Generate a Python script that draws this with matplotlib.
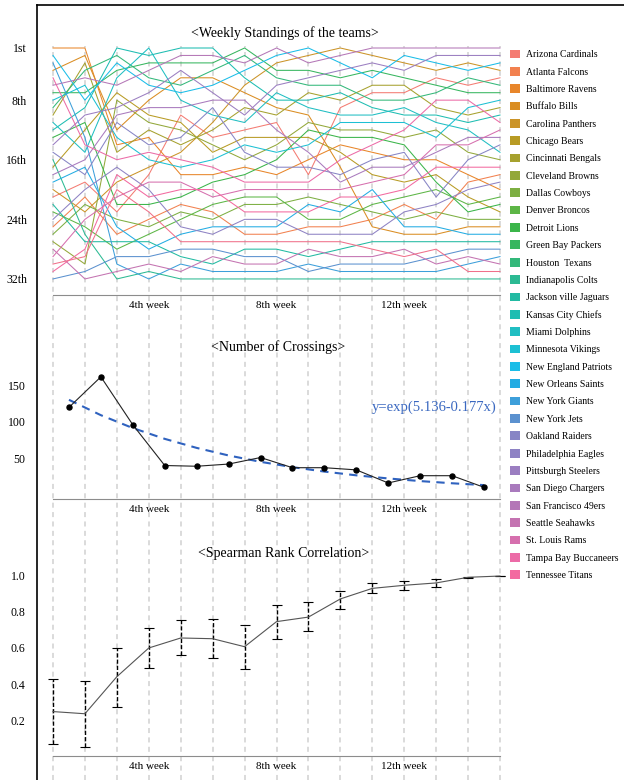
import numpy as np
import matplotlib.pyplot as plt
from matplotlib.lines import Line2D
from matplotlib.patches import Patch

W, H = 624, 780

weeks = np.arange(1, 16)
week_ticks = [4, 8, 12]
week_labels = ['4th week', '8th week', '12th week']

teams = ['Arizona Cardinals', 'Atlanta Falcons', 'Baltimore Ravens', 'Buffalo Bills',
         'Carolina Panthers', 'Chicago Bears', 'Cincinnati Bengals', 'Cleveland Browns',
         'Dallas Cowboys', 'Denver Broncos', 'Detroit Lions', 'Green Bay Packers',
         'Houston  Texans', 'Indianapolis Colts', 'Jackson ville Jaguars', 'Kansas City Chiefs',
         'Miami Dolphins', 'Minnesota Vikings', 'New England Patriots', 'New Orleans Saints',
         'New York Giants', 'New York Jets', 'Oakland Raiders', 'Philadelphia Eagles',
         'Pittsburgh Steelers', 'San Diego Chargers', 'San Francisco 49ers', 'Seattle Seahawks',
         'St. Louis Rams', 'Tampa Bay Buccaneers', 'Tennessee Titans', 'Washington Redskins']

team_colors = ['#F47B72', '#F2814F', '#E8862A', '#DA8D22', '#CB9428', '#B89B24', '#A6A12E',
               '#93A83A', '#7DAF42', '#5DB646', '#3BB54A', '#37B65F', '#33B87A', '#2CBA93',
               '#22BAA2', '#1EBDB2', '#20BEC2', '#1DC0D3', '#1ABDE8', '#23ACE3', '#3D9FDA',
               '#5B91CF', '#8785C5', '#8E82C4', '#9B7EC1', '#A97ABD', '#B477B7', '#C473B1',
               '#D66FAE', '#EC6BA7', '#F36AA0', '#F0708A']

# weekly standing (1 = best), one row per team, weeks 1..15
standings = [
    [21, 18, 22, 18, 9, 12, 11, 9, 16, 9, 7, 7, 5, 6, 5],
    [25, 21, 27, 24, 22, 23, 25, 24, 22, 24, 23, 22, 24, 19, 18],
    [1, 1, 13, 11, 16, 17, 15, 16, 14, 14, 15, 16, 16, 18, 20],
    [4, 2, 12, 6, 5, 5, 7, 8, 10, 16, 23, 26, 27, 25, 25],
    [20, 24, 19, 16, 13, 10, 6, 3, 2, 1, 2, 3, 4, 3, 4],
    [17, 11, 7, 8, 9, 14, 12, 11, 12, 14, 17, 18, 18, 21, 23],
    [10, 3, 14, 10, 12, 11, 8, 8, 7, 8, 6, 6, 10, 10, 9],
    [27, 30, 7, 9, 10, 13, 14, 11, 10, 12, 12, 12, 12, 15, 16],
    [26, 22, 25, 25, 23, 24, 21, 20, 19, 20, 22, 23, 22, 23, 24],
    [23, 26, 28, 26, 24, 22, 20, 19, 21, 21, 21, 21, 19, 21, 21],
    [13, 10, 21, 22, 21, 18, 16, 13, 11, 13, 13, 13, 18, 22, 22],
    [7, 7, 4, 3, 3, 3, 1, 3, 4, 5, 4, 5, 6, 7, 7],
    [9, 4, 2, 4, 5, 4, 2, 4, 6, 6, 8, 8, 7, 5, 6],
    [16, 26, 32, 31, 31, 32, 32, 32, 32, 32, 32, 32, 32, 32, 32],
    [22, 27, 27, 27, 29, 30, 27, 29, 29, 28, 27, 27, 27, 27, 27],
    [12, 9, 1, 2, 1, 1, 5, 7, 8, 7, 9, 10, 11, 11, 10],
    [11, 13, 5, 1, 7, 9, 10, 6, 9, 10, 10, 9, 11, 12, 15],
    [8, 6, 12, 14, 15, 14, 12, 12, 12, 11, 11, 11, 13, 9, 8],
    [2, 7, 3, 4, 6, 5, 4, 2, 1, 3, 5, 2, 3, 4, 3],
    [19, 16, 26, 27, 26, 25, 24, 23, 19, 20, 20, 24, 26, 26, 26],
    [3, 12, 30, 31, 29, 31, 31, 31, 30, 31, 31, 31, 31, 30, 29],
    [32, 31, 29, 28, 28, 28, 28, 29, 31, 30, 30, 30, 29, 28, 28],
    [15, 17, 10, 12, 11, 8, 13, 14, 15, 16, 16, 14, 20, 16, 14],
    [24, 19, 17, 20, 25, 26, 23, 22, 23, 24, 24, 22, 21, 20, 19],
    [14, 9, 8, 5, 4, 6, 9, 5, 4, 4, 3, 4, 2, 2, 2],
    [18, 14, 9, 7, 8, 7, 7, 10, 13, 17, 16, 16, 15, 13, 13],
    [6, 5, 6, 3, 2, 2, 3, 1, 2, 2, 1, 1, 1, 1, 1],
    [28, 32, 31, 30, 30, 29, 30, 30, 28, 29, 29, 28, 30, 29, 30],
    [29, 25, 20, 19, 17, 21, 19, 18, 17, 18, 18, 17, 14, 14, 12],
    [5, 12, 15, 13, 14, 16, 18, 17, 16, 15, 14, 11, 9, 8, 11],
    [31, 28, 18, 21, 20, 20, 22, 21, 20, 19, 20, 19, 17, 17, 17],
    [30, 29, 19, 23, 27, 27, 26, 26, 26, 26, 28, 29, 28, 31, 31],
]
rank_ticks = [1, 8, 16, 24, 32]
rank_labels = ['1st', '8th', '16th', '24th', '32th']

# crossings between consecutive weeks
crossings = [120, 162, 96, 40, 39, 42, 51, 37, 37, 34, 16, 26, 26, 10]
fit_a, fit_b = 5.136, 0.177

# spearman rank correlation with intervals
sp_mean = [0.25, 0.238, 0.442, 0.60, 0.655, 0.651, 0.607, 0.745, 0.77, 0.87,
           0.928, 0.945, 0.958, 0.989, 0.996]
sp_low = [0.07, 0.055, 0.273, 0.488, 0.56, 0.543, 0.484, 0.649, 0.692, 0.816,
          0.903, 0.919, 0.934, 0.985, 0.994]
sp_high = [0.428, 0.418, 0.598, 0.712, 0.752, 0.758, 0.726, 0.838, 0.851, 0.915,
           0.956, 0.967, 0.978, 0.993, 0.998]

plt.rcParams['font.family'] = ['Liberation Serif', 'DejaVu Serif']
fig = plt.figure(figsize=(W / 100, H / 100), dpi=100)


def box(l, t, r, b):
    return [l / W, 1 - b / H, (r - l) / W, (b - t) / H]


pxw = (500 - 53) / 14
xl = (1 - 8 / pxw, 15 + 8 / pxw)

# dashed week grid behind all three panels
grid = fig.add_axes(box(45, 46, 508, 780), zorder=0)
grid.set_xlim(xl)
grid.set_ylim(0, 1)
grid.axis('off')
for w in weeks:
    grid.axvline(w, color='#d8d8d8', lw=1.3, ls=(0, (2.8, 2.4)))


def style(ax, ytk, ylab, pad_y):
    ax.patch.set_alpha(0)
    ax.set_xlim(xl)
    for s in ['top', 'right', 'left']:
        ax.spines[s].set_visible(False)
    ax.spines['bottom'].set_color('#8c8c8c')
    ax.spines['bottom'].set_bounds(1, 15)
    ax.set_xticks(week_ticks, week_labels)
    ax.set_yticks(ytk, ylab)
    ax.tick_params(axis='x', length=0, pad=4, labelsize=8)
    ax.tick_params(axis='y', length=0, pad=pad_y, labelsize=8.5)


# top: weekly standings
ax1 = fig.add_axes(box(45, 20, 508, 295), zorder=1)
pos = np.array(standings, dtype=float)
ranks = pos.argsort(axis=0, kind='stable').argsort(axis=0, kind='stable') + 1
for i, t in enumerate(teams):
    ax1.plot(weeks, ranks[i], color=team_colors[i], lw=0.75)
ax1.set_ylim((295 - 48) / 7.45 + 1, (20 - 48) / 7.45 + 1)
style(ax1, rank_ticks, rank_labels, 13)

# middle: number of crossings
ax2 = fig.add_axes(box(45, 320, 508, 499), zorder=1)
cx = weeks[:-1] + 0.5
ax2.plot(cx, np.exp(fit_a - fit_b * cx), color='#2f62bf', lw=1.5, ls=(0, (4, 3)))
ax2.plot(cx, crossings, color='#222222', lw=0.8, marker='o', ms=3.6,
         mfc='black', mec='black')
ax2.set_ylim((494.6 - 499) / 0.727, (494.6 - 320) / 0.727)
style(ax2, [50, 100, 150], ['50', '100', '150'], 14)

# bottom: spearman rank correlation
ax3 = fig.add_axes(box(45, 535, 508, 756), zorder=1)
m = np.array(sp_mean)
eb = ax3.errorbar(weeks, m, yerr=[m - np.array(sp_low), np.array(sp_high) - m],
                  fmt='none', ecolor='black', elinewidth=1.0, capsize=3.5, capthick=0.8)
eb[2][0].set_linestyle((0, (3, 1.5)))
ax3.plot(weeks, m, color='#555555', lw=0.8)
ax3.set_ylim((757 - 756) / 181.7, (757 - 535) / 181.7)
style(ax3, [0.2, 0.4, 0.6, 0.8, 1.0], ['0.2', '0.4', '0.6', '0.8', '1.0'], 14)

fig.text(285 / W, 1 - 33 / H, '<Weekly Standings of the teams>', ha='center', va='center', fontsize=10)
fig.text(278 / W, 1 - 347 / H, '<Number of Crossings>', ha='center', va='center', fontsize=10)
fig.text(284 / W, 1 - 553 / H, '<Spearman Rank Correlation>', ha='center', va='center', fontsize=10)
fig.text(434 / W, 1 - 407 / H, 'y=exp(%.3f-%.3fx)' % (fit_a, fit_b), ha='center', va='center',
         fontsize=10.5, color='#3a68c0')

handles = [Patch(facecolor=team_colors[i], edgecolor='none', label=teams[i]) for i in range(31)]
fig.legend(handles=handles, loc='upper left', bbox_to_anchor=(510 / W, 1 - 49.5 / H),
           frameon=False, fontsize=7, handlelength=1.0, handleheight=1.0,
           handletextpad=0.6, labelspacing=0.79, borderpad=0, borderaxespad=0)

# outer frame: left and top edges
fig.add_artist(Line2D([37 / W, 37 / W], [0, 1 - 5 / H], color='black', lw=1.2))
fig.add_artist(Line2D([37 / W, 1], [1 - 5 / H, 1 - 5 / H], color='black', lw=1.2))

fig.savefig('out.png', dpi=100)
